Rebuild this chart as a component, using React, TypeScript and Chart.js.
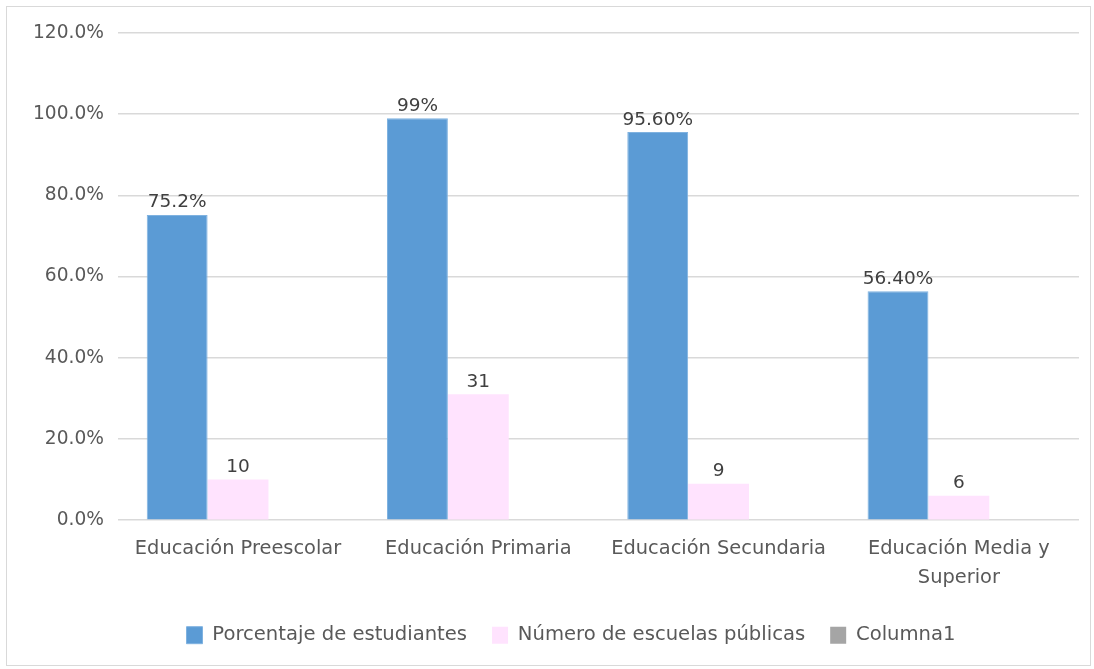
import React, { useEffect, useRef } from "react";
import { Chart, registerables } from "chart.js";

Chart.register(...registerables);

const categories: (string | string[])[] = [
  "Educación Preescolar",
  "Educación Primaria",
  "Educación Secundaria",
  ["Educación Media y", "Superior"],
];
const porcentajeEstudiantes = [75.2, 99, 95.6, 56.4];
const porcentajeLabels = ["75.2%", "99%", "95.60%", "56.40%"];
const numeroEscuelas = [10, 31, 9, 6];
const numeroLabels = ["10", "31", "9", "6"];
const columna1: (number | null)[] = [null, null, null, null];
const yTicks = [0, 20, 40, 60, 80, 100, 120];

const FONT = "'DejaVu Sans', sans-serif";

const labelPlugin = {
  id: "barLabels",
  afterDatasetsDraw(chart: any) {
    const ctx = chart.ctx;
    const sets = [porcentajeLabels, numeroLabels];
    ctx.save();
    ctx.font = `18.5px ${FONT}`;
    ctx.fillStyle = "#404040";
    ctx.textAlign = "center";
    ctx.textBaseline = "bottom";
    sets.forEach((labels, di) => {
      const meta = chart.getDatasetMeta(di);
      meta.data.forEach((bar: any, i: number) => {
        ctx.fillText(labels[i], bar.x, bar.y - 3);
      });
    });
    ctx.restore();
  },
};

const legendShift = {
  id: "legendShift",
  afterLayout(chart: any) {
    const lg = chart.legend;
    if (lg) {
      lg.left += 22;
      lg.right += 22;
    }
  },
};

export default function App() {
  const ref = useRef<HTMLCanvasElement>(null);
  useEffect(() => {
    document.body.style.margin = "0";
    const chart = new Chart(ref.current!, {
      type: "bar",
      data: {
        labels: categories,
        datasets: [
          {
            label: "Porcentaje de estudiantes",
            data: porcentajeEstudiantes,
            backgroundColor: "#5B9BD5",
            borderColor: "#7FB2E0",
            borderWidth: 1,
            categoryPercentage: 0.76,
            barPercentage: 1,
          },
          {
            label: "Número de escuelas públicas",
            data: numeroEscuelas,
            backgroundColor: "#FFE3FE",
            borderWidth: 0,
            categoryPercentage: 0.76,
            barPercentage: 1,
          },
          {
            label: "Columna1",
            data: columna1,
            backgroundColor: "#A5A5A5",
            categoryPercentage: 0.76,
            barPercentage: 1,
          },
        ],
      },
      options: {
        animation: false,
        responsive: true,
        maintainAspectRatio: false,
        layout: { padding: { left: 12, right: 11, top: 26, bottom: 10 } },
        scales: {
          x: {
            grid: { display: false },
            border: { display: false },
            afterFit: (axis: any) => {
              axis.height += 2;
            },
            ticks: {
              color: "#595959",
              font: { family: FONT, size: 19.4, lineHeight: 1.5 },
              padding: 6,
              maxRotation: 0,
              autoSkip: false,
            },
          },
          y: {
            min: 0,
            max: 120,
            afterBuildTicks: (axis: any) => {
              axis.ticks = yTicks.map((v) => ({ value: v }));
            },
            grid: { color: "#D9D9D9", lineWidth: 1.5, drawTicks: false },
            border: { display: false },
            ticks: {
              color: "#595959",
              font: { family: FONT, size: 18.6 },
              padding: 14,
              callback: (v: any) => Number(v).toFixed(1) + "%",
            },
          },
        },
        plugins: {
          tooltip: { enabled: false },
          legend: {
            position: "bottom",
            labels: {
              color: "#595959",
              font: { family: FONT, size: 19.6 },
              boxWidth: 16,
              boxHeight: 17,
              padding: 25,
            },
          },
        },
      },
      plugins: [labelPlugin, legendShift],
    });
    return () => chart.destroy();
  }, []);
  return (
    <div
      style={{
        position: "absolute",
        left: 6,
        top: 6,
        width: 1083,
        height: 658,
        border: "1px solid #D9D9D9",
        background: "#fff",
      }}
    >
      <canvas ref={ref} />
    </div>
  );
}
